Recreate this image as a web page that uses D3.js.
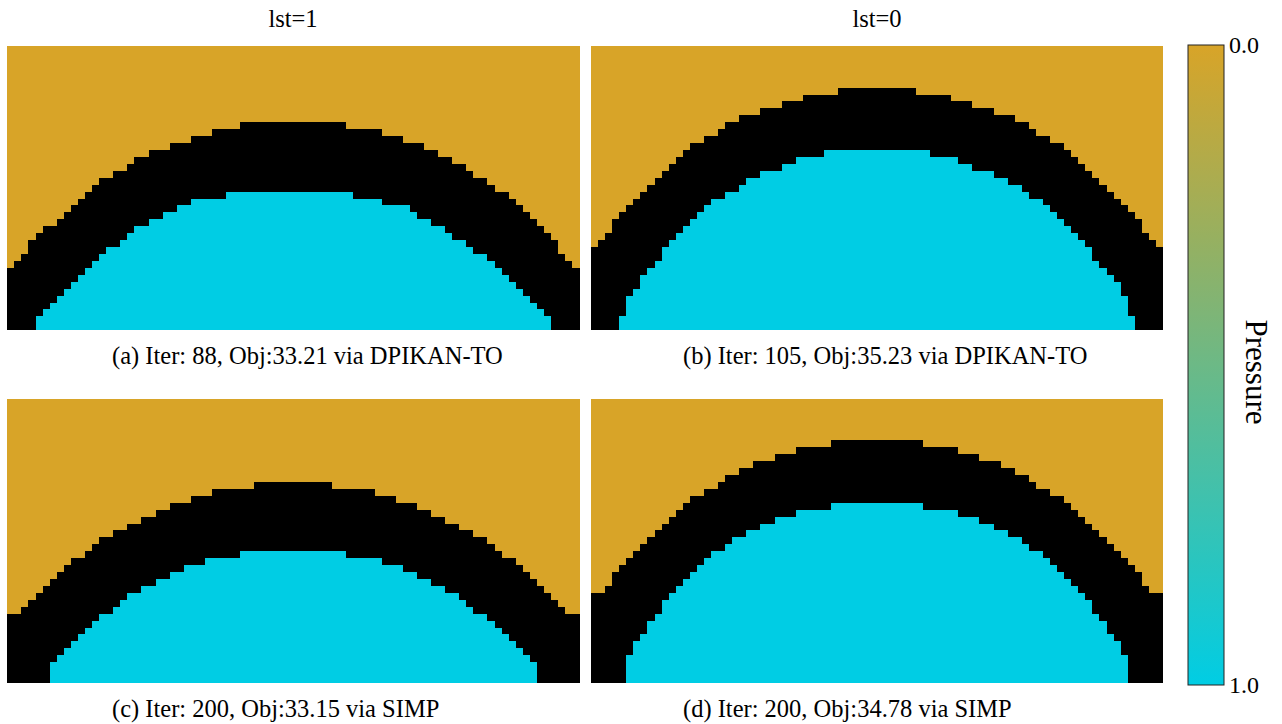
<!DOCTYPE html>
<html>
<head>
<meta charset="utf-8">
<script src="https://cdn.jsdelivr.net/npm/d3@7"></script>
<style>
  body { margin: 0; background: #fff; }
  svg { display: block; font-family: "Liberation Serif", "Times New Roman", serif; }
</style>
</head>
<body>
<div id="chart"></div>
<script>
// grid is 81 x 41 nodes; per column: first row of the solid band, first row of the fluid (cyan) region
const nCols = 81;
const nRows = 41;

const topA = [32,31,30,28,27,26,26,25,24,23,22,21,20,19,19,18,18,17,16,16,15,15,15,14,14,14,13,13,13,12,12,12,12,
  11,11,11,11,11,11,11,11,11,11,11,11,11,11,11,
  12,12,12,12,12,13,13,13,14,14,14,15,15,16,16,17,17,18,19,19,20,21,21,22,23,24,25,26,27,28,30,31,32];
const botA = [41,41,41,41,39,38,37,36,35,34,33,32,31,30,29,29,28,27,26,26,25,25,24,24,23,23,22,22,22,22,22,
  21,21,21,21,21,21,21,21,21,21,21,21,21,21,21,21,21,21,
  22,22,22,22,23,23,23,23,24,25,25,26,26,27,28,28,29,30,30,31,32,33,34,35,36,37,38,39,41,41,41,41];

const topB = [29,28,27,25,24,23,22,21,20,19,18,17,16,15,14,14,13,13,12,11,11,10,10,10,9,9,9,8,8,8,7,7,7,7,7,
  6,6,6,6,6,6,6,6,6,6,6,
  7,7,7,7,7,8,8,8,9,9,9,10,10,10,11,11,12,13,13,14,14,15,16,17,18,19,20,21,22,23,24,25,27,28,29];
const botB = [41,41,41,41,39,36,35,33,32,31,29,28,27,26,25,24,23,22,22,21,21,20,19,19,18,18,18,17,17,16,16,16,16,
  15,15,15,15,15,15,15,15,15,15,15,15,15,15,15,
  16,16,16,16,17,17,18,18,18,19,19,20,20,21,22,22,23,24,25,26,27,28,29,31,32,33,34,36,39,41,41,41,41];

const topC = [31,31,30,29,28,27,26,25,24,23,23,22,21,20,20,19,19,18,18,17,17,16,16,15,15,15,14,14,14,13,13,13,13,13,13,
  12,12,12,12,12,12,12,12,12,12,12,
  13,13,13,13,13,13,14,14,14,15,15,15,16,16,17,17,18,18,19,19,20,20,21,22,23,23,24,25,26,27,28,29,30,31,31];
const botC = [41,41,41,41,41,41,38,37,36,35,34,33,32,31,31,30,29,28,28,27,27,26,26,25,25,24,24,24,23,23,23,23,23,
  22,22,22,22,22,22,22,22,22,22,22,22,22,22,22,
  23,23,23,23,23,24,24,24,25,25,26,26,27,27,28,28,29,30,31,31,32,33,34,35,36,37,38,41,41,41,41,41,41];

const topD = [28,28,27,25,24,23,22,21,20,19,18,17,16,15,14,14,13,13,12,11,11,10,10,9,9,9,8,8,8,7,7,7,7,7,
  6,6,6,6,6,6,6,6,6,6,6,6,6,
  7,7,7,7,7,8,8,8,9,9,9,10,10,11,11,12,13,13,14,14,15,16,17,18,19,20,21,22,23,24,25,27,28,28];
const botD = [41,41,41,41,41,37,35,34,32,31,29,28,27,26,25,24,23,22,22,21,20,20,19,19,18,18,17,17,17,16,16,16,16,16,
  15,15,15,15,15,15,15,15,15,15,15,15,15,
  16,16,16,16,16,17,17,17,18,18,19,19,20,20,21,22,22,23,24,25,26,27,28,29,31,32,34,35,37,41,41,41,41,41];

const columnTitles = ['lst=1', 'lst=0'];
const captions = [
  '(a) Iter: 88, Obj:33.21 via DPIKAN-TO',
  '(b) Iter: 105, Obj:35.23 via DPIKAN-TO',
  '(c) Iter: 200, Obj:33.15 via SIMP',
  '(d) Iter: 200, Obj:34.78 via SIMP'
];
const cbTicks = [0, 1];
const cbLabel = 'Pressure';

const width = 1282, height = 724;
const goldColor = '#d8a428';
const cyanColor = '#00cde4';
const pressureColor = d3.scaleLinear().domain([0, 1]).range([goldColor, cyanColor]).interpolate(d3.interpolateRgb);

const panels = [
  { top: topA, bot: botA, x: 7.3, y: 46, caption: captions[0] },
  { top: topB, bot: botB, x: 591, y: 46, caption: captions[1] },
  { top: topC, bot: botC, x: 7.3, y: 398.7, caption: captions[2] },
  { top: topD, bot: botD, x: 591, y: 398.7, caption: captions[3] }
];
const panelW = 572, panelH = 284.3;

const svg = d3.select('#chart').append('svg')
  .attr('width', width)
  .attr('height', height);

panels.forEach((p, i) => {
  const x = d3.scaleLinear().domain([0, nCols]).range([p.x, p.x + panelW]);
  const y = d3.scaleLinear().domain([0, nRows]).range([p.y, p.y + panelH]);

  // three runs per column: fluid at rest (0), solid, fluid (1)
  const cols = d3.range(nCols).map(c => ({ c: c, t: p.top[c], b: p.bot[c] }));
  const runs = [];
  cols.forEach(d => {
    runs.push({ c: d.c, r0: 0, r1: d.t, fill: pressureColor(0) });
    runs.push({ c: d.c, r0: d.t, r1: d.b, fill: '#000' });
    if (d.b < nRows) runs.push({ c: d.c, r0: d.b, r1: nRows, fill: pressureColor(1) });
  });

  const g = svg.append('g').attr('class', 'panel');
  g.selectAll('rect')
    .data(runs)
    .enter().append('rect')
    .attr('x', d => x(d.c))
    .attr('y', d => y(d.r0))
    .attr('width', d => x(d.c + 1) - x(d.c) + 0.4)
    .attr('height', d => y(d.r1) - y(d.r0))
    .attr('fill', d => d.fill)
    .attr('shape-rendering', 'crispEdges');

  svg.append('text')
    .attr('x', i % 2 === 0 ? 112 : 683)
    .attr('y', p.y + panelH + 34)
    .style('font-size', '24.5px')
    .text(p.caption);
});

columnTitles.forEach((t, i) => {
  svg.append('text')
    .attr('x', i === 0 ? 293 : 877)
    .attr('y', 27)
    .attr('text-anchor', 'middle')
    .style('font-size', '24.5px')
    .text(t);
});

// colorbar
const cbX = 1188, cbY = 45, cbW = 36, cbH = 640;
const grad = svg.append('defs').append('linearGradient')
  .attr('id', 'cbGrad')
  .attr('x1', 0).attr('y1', 0).attr('x2', 0).attr('y2', 1);
grad.selectAll('stop')
  .data(d3.range(0, 1.0001, 0.1))
  .enter().append('stop')
  .attr('offset', d => d)
  .attr('stop-color', d => pressureColor(d));

svg.append('rect')
  .attr('x', cbX).attr('y', cbY)
  .attr('width', cbW).attr('height', cbH)
  .attr('fill', 'url(#cbGrad)')
  .attr('stroke', '#222')
  .attr('stroke-width', 1);

const cbScale = d3.scaleLinear().domain([0, 1]).range([cbY, cbY + cbH]);
const cbAxis = svg.append('g')
  .attr('transform', `translate(${cbX + cbW},0)`)
  .call(d3.axisRight(cbScale).tickValues(cbTicks).tickSize(0).tickPadding(5).tickFormat(d3.format('.1f')));
cbAxis.select('.domain').remove();
cbAxis.selectAll('text')
  .style('font-family', '"Liberation Serif", "Times New Roman", serif')
  .style('font-size', '24px')
  .attr('fill', '#000');

svg.append('text')
  .attr('transform', `translate(1246, ${cbY + cbH / 2 + 7}) rotate(90)`)
  .attr('text-anchor', 'middle')
  .style('font-size', '31px')
  .text(cbLabel);
</script>
</body>
</html>
